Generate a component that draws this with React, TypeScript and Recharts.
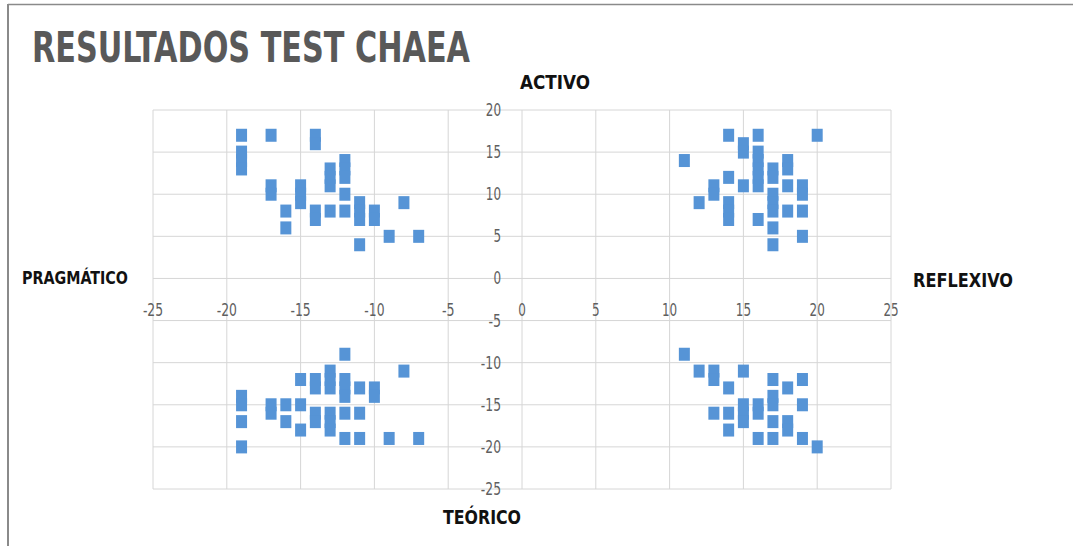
import React from 'react';
import { ScatterChart, Scatter, XAxis, YAxis, ReferenceLine } from 'recharts';

// Activo (+y) vs Pragmático (-x)
const activoPragmatico: [number, number][] = [
  [-19, 17], [-19, 15], [-19, 14], [-19, 13],
  [-17, 17], [-17, 11], [-17, 10],
  [-16, 8], [-16, 6],
  [-15, 11], [-15, 10], [-15, 9],
  [-14, 17], [-14, 16], [-14, 8], [-14, 7],
  [-13, 13], [-13, 12], [-13, 11], [-13, 8],
  [-12, 14], [-12, 13], [-12, 12], [-12, 10], [-12, 8],
  [-11, 9], [-11, 8], [-11, 7], [-11, 4],
  [-10, 8], [-10, 7],
  [-9, 5], [-8, 9], [-7, 5],
];

// Activo (+y) vs Reflexivo (+x)
const activoReflexivo: [number, number][] = [
  [11, 14], [12, 9], [13, 11], [13, 10],
  [14, 17], [14, 12], [14, 9], [14, 8], [14, 7],
  [15, 16], [15, 15], [15, 11],
  [16, 17], [16, 15], [16, 14], [16, 13], [16, 12], [16, 11], [16, 7],
  [17, 13], [17, 12], [17, 10], [17, 9], [17, 8], [17, 6], [17, 4],
  [18, 14], [18, 13], [18, 11], [18, 8],
  [19, 11], [19, 10], [19, 8], [19, 5],
  [20, 17],
];

// Teórico (-y) vs Pragmático (-x)
const teoricoPragmatico: [number, number][] = [
  [-19, -14], [-19, -15], [-19, -17], [-19, -20],
  [-17, -15], [-17, -16],
  [-16, -15], [-16, -17],
  [-15, -12], [-15, -15], [-15, -18],
  [-14, -12], [-14, -13], [-14, -16], [-14, -17],
  [-13, -11], [-13, -12], [-13, -13], [-13, -16], [-13, -17], [-13, -18],
  [-12, -9], [-12, -12], [-12, -13], [-12, -14], [-12, -16], [-12, -19],
  [-11, -13], [-11, -16], [-11, -19],
  [-10, -13], [-10, -14],
  [-9, -19], [-8, -11], [-7, -19],
];

// Teórico (-y) vs Reflexivo (+x)
const teoricoReflexivo: [number, number][] = [
  [11, -9], [12, -11], [13, -11], [13, -12], [13, -16],
  [14, -13], [14, -16], [14, -18],
  [15, -11], [15, -15], [15, -16], [15, -17],
  [16, -15], [16, -16], [16, -19],
  [17, -12], [17, -14], [17, -15], [17, -17], [17, -19],
  [18, -13], [18, -17], [18, -18],
  [19, -12], [19, -15], [19, -19],
  [20, -20],
];

const xTicks = [-25, -20, -15, -10, -5, 0, 5, 10, 15, 20, 25];
const yTicks = [20, 15, 10, 5, 0, -5, -10, -15, -20, -25];
const xLabelRow = -3.8;

const TITLE = 'RESULTADOS TEST CHAEA';
const LABEL_TOP = 'ACTIVO';
const LABEL_BOTTOM = 'TEÓRICO';
const LABEL_LEFT = 'PRAGMÁTICO';
const LABEL_RIGHT = 'REFLEXIVO';

const NARROW = "'Liberation Sans Narrow', 'Arial Narrow', 'DejaVu Sans Condensed', sans-serif";
const MARKER = '#5694d6';
const GRID = '#d6d6d6';

const toPts = (arr: [number, number][]) => arr.map(([x, y]) => ({ x, y }));

const xTickData = xTicks.map((v) => ({ x: v, y: xLabelRow, label: String(v) }));
const yTickData = yTicks.map((v) => ({ x: 0, y: v, label: String(v) }));

const labelWidth = (s: string) =>
  s.split('').reduce((w, c) => w + (c === '-' ? 5 : 7.6), 0);

const squareShape = (p: any) => (
  <rect x={p.cx - 5.5} y={p.cy - 6.5} width={11} height={13} fill={MARKER} />
);

const xTickShape = (p: any) => (
  <text x={p.cx} y={p.cy} textAnchor="middle" dominantBaseline="central"
    fontFamily={NARROW} fontSize={17.5} fill="#5f5f5f"
    textLength={labelWidth(p.payload.label)} lengthAdjust="spacingAndGlyphs">{p.payload.label}</text>
);

const yTickShape = (p: any) => (
  <text x={p.cx - 21} y={p.cy} textAnchor="end" dominantBaseline="central"
    fontFamily={NARROW} fontSize={17.5} fill="#5f5f5f"
    textLength={labelWidth(p.payload.label)} lengthAdjust="spacingAndGlyphs">{p.payload.label}</text>
);

export default function App() {
  const W = 1073;
  const H = 546;
  return (
    <div style={{ position: 'absolute', left: 0, top: 0, width: W, height: H, background: '#fff' }}>
      <ScatterChart width={W} height={H} margin={{ top: 110, right: 182, bottom: 57, left: 153 }}>
        <XAxis type="number" dataKey="x" domain={[-25, 25]} ticks={xTicks} height={0}
          tick={false} axisLine={false} tickLine={false} />
        <YAxis type="number" dataKey="y" domain={[-25, 20]} ticks={yTicks} width={0}
          tick={false} axisLine={false} tickLine={false} />
        {xTicks.map((v) => (
          <ReferenceLine key={'gx' + v} x={v} stroke={GRID} strokeWidth={1} />
        ))}
        {yTicks.map((v) => (
          <ReferenceLine key={'gy' + v} y={v} stroke={GRID} strokeWidth={1} />
        ))}
        <Scatter data={xTickData} shape={xTickShape} isAnimationActive={false} />
        <Scatter data={yTickData} shape={yTickShape} isAnimationActive={false} />
        <Scatter data={toPts(activoPragmatico)} shape={squareShape} isAnimationActive={false} />
        <Scatter data={toPts(activoReflexivo)} shape={squareShape} isAnimationActive={false} />
        <Scatter data={toPts(teoricoPragmatico)} shape={squareShape} isAnimationActive={false} />
        <Scatter data={toPts(teoricoReflexivo)} shape={squareShape} isAnimationActive={false} />
      </ScatterChart>
      <svg width={W} height={H} style={{ position: 'absolute', left: 0, top: 0, pointerEvents: 'none' }}>
        <line x1={8} y1={4.5} x2={W} y2={4.5} stroke="#8a8a8a" strokeWidth={1.5} />
        <line x1={8} y1={4} x2={8} y2={H} stroke="#8a8a8a" strokeWidth={2} />
        <text x={32} y={62} fontFamily={NARROW} fontWeight="bold" fontSize={42} fill="#595959"
          textLength={438} lengthAdjust="spacingAndGlyphs">{TITLE}</text>
        <text x={520} y={89} fontFamily={NARROW} fontWeight="bold" fontSize={19} fill="#111"
          textLength={70} lengthAdjust="spacingAndGlyphs">{LABEL_TOP}</text>
        <text x={443} y={524} fontFamily={NARROW} fontWeight="bold" fontSize={20} fill="#111"
          textLength={78} lengthAdjust="spacingAndGlyphs">{LABEL_BOTTOM}</text>
        <text x={22} y={284} fontFamily={NARROW} fontWeight="bold" fontSize={18} fill="#111"
          textLength={106} lengthAdjust="spacingAndGlyphs">{LABEL_LEFT}</text>
        <text x={913} y={287} fontFamily={NARROW} fontWeight="bold" fontSize={19} fill="#111"
          textLength={100} lengthAdjust="spacingAndGlyphs">{LABEL_RIGHT}</text>
      </svg>
    </div>
  );
}
